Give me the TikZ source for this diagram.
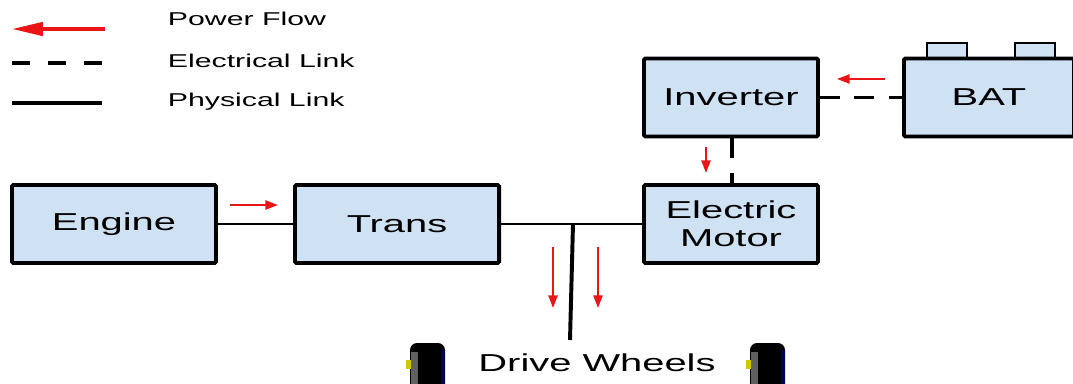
\documentclass[tikz,border=0pt]{standalone}
\usepackage{fontspec}
\setmainfont{Liberation Sans}
\newfontfamily\boxfont[FakeStretch=1.63]{Liberation Sans}
\usetikzlibrary{arrows.meta}
\definecolor{boxblue}{HTML}{CFE2F3}
\definecolor{flowred}{RGB}{232,22,22}
\tikzset{
  unit/.style={draw,line width=2.8pt,fill=boxblue,rounded corners=1pt,minimum height=1.95cm,
    font=\boxfont\fontsize{17.4}{20}\selectfont},
  phys/.style={line width=1.9pt},
  elec/.style={line width=2.8pt,dash pattern=on 14pt off 10.5pt},
  flow/.style={flowred,line width=1.4pt,-{Triangle[length=9pt,width=6.5pt]}},
  legendtext/.style={anchor=west,font=\boxfont\fontsize{13.2}{15}\selectfont},
}
\begin{document}
\begin{tikzpicture}[x=0.025cm,y=-0.025cm]
\useasboundingbox (0,0) rectangle (1073,383);
\clip (0,0) rectangle (1073,383);
% legend
\draw[flowred,line width=2.5pt,-{Triangle[length=22pt,width=9.5pt]}] (105,29) -- (12,29);
\node[legendtext] (lflow) at (163,19) {Power Flow};
\draw[line width=2.8pt,dash pattern=on 12.8pt off 12.8pt] (12,63) -- (104,63);
\node[legendtext] (lelec) at (163,61) {Electrical Link};
\draw[line width=2.5pt] (12,103) -- (102,103);
\node[legendtext] (lphys) at (163,102) {Physical Link};
% battery terminals
\draw[line width=1.4pt,fill=boxblue] (927,58) rectangle (967,43);
\draw[line width=1.4pt,fill=boxblue] (1015,58) rectangle (1055,43);
% units
\node[unit,minimum width=5.1cm] (engine) at (114,224) {Engine};
\node[unit,minimum width=5.1cm] (trans) at (397,224) {Trans};
\node[unit,minimum width=4.35cm,align=center] (motor) at (731,224) {Electric\\Motor};
\node[unit,minimum width=4.35cm] (inverter) at (731,97.5) {Inverter};
\node[unit,minimum width=4.25cm] (bat) at (989,97.5) {BAT};
% links
\coordinate (axle) at (573,224);
\coordinate (axleend) at (570,340);
\draw[phys] (engine) -- (trans);
\draw[phys] (trans) -- (motor);
\draw[line width=2.8pt] (axle) -- (axleend);
\draw[elec] (inverter) -- (bat);
\draw[elec] (inverter.south -| 732,0) -- (motor.north -| 732,0);
% power flow
\draw[flow] (230,205) -- (278,205);
\draw[flow] (885,79) -- (837,79);
\draw[flow] (706,147) -- (706,173);
\foreach \x in {553,598}
  \draw[flow] (\x,247) -- (\x,308);
% wheels
\foreach \x in {410,750}{
  \fill[black,rounded corners=5pt] (\x,395) rectangle (\x+35,343);
  \fill[gray!75!black] (\x+1,352) rectangle (\x+8,390);
  \fill[blue!35!black] (\x+31,350) rectangle (\x+35,390);
  \fill[yellow!60!olive] (\x-4,360) rectangle (\x+1,369);
}
\node[font=\boxfont\fontsize{17.4}{20}\selectfont] (wheels) at (597,363) {Drive Wheels};
\end{tikzpicture}
\end{document}
